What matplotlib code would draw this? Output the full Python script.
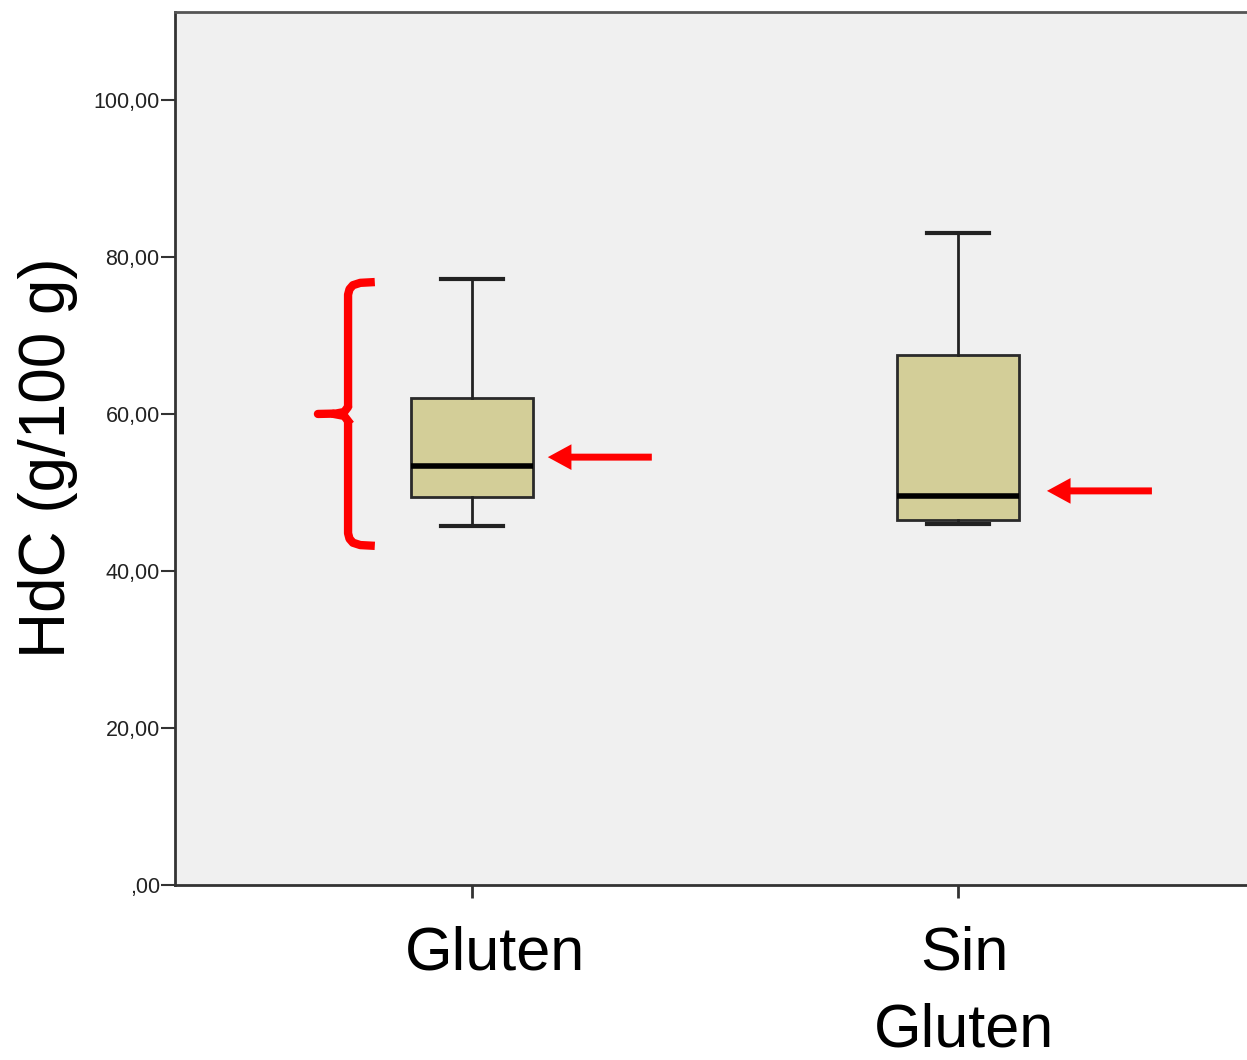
import matplotlib
matplotlib.use("Agg")
import matplotlib.pyplot as plt
from matplotlib.transforms import ScaledTranslation

plt.rcParams['font.family'] = ['Liberation Sans', 'DejaVu Sans']

################################ Data #######################################################

groups = ['Gluten', 'Sin\nGluten']
whisker_low = [45.7, 46.0]
q1 = [49.4, 46.5]
median = [53.4, 49.6]
q3 = [62.0, 67.5]
whisker_high = [77.2, 83.1]

yticks = [0, 20, 40, 60, 80, 100]
ytick_labels = [',00', '20,00', '40,00', '60,00', '80,00', '100,00']

################################ Figure and axes ###################################

fig = plt.figure(figsize=(12.47, 10.6), dpi=100)
ax = fig.add_axes([175 / 1247, 175 / 1060, 1080 / 1247, 873 / 1060])
ax.set_facecolor('#F0F0F0')

stats = []
for i in range(len(groups)):
    stats.append({'whislo': whisker_low[i], 'q1': q1[i], 'med': median[i],
                  'q3': q3[i], 'whishi': whisker_high[i], 'fliers': []})

positions = [1, 2]
ax.bxp(stats, positions=positions, widths=0.253, capwidths=0.126,
       patch_artist=True, showfliers=False,
       boxprops=dict(facecolor='#D3CE98', edgecolor='#2a2a2a', linewidth=2),
       medianprops=dict(color='black', linewidth=4),
       whiskerprops=dict(color='#222222', linewidth=2),
       capprops=dict(color='#222222', linewidth=3))

ax.set_xlim(1 - 297 / 486, 2 + 297 / 486)
ax.set_ylim(0, 111.2)

# spines
ax.spines['right'].set_visible(False)
ax.spines['left'].set_color('#333333')
ax.spines['bottom'].set_color('#333333')
ax.spines['top'].set_color('#555555')
for s in ['left', 'bottom', 'top']:
    ax.spines[s].set_linewidth(2)

ax.set_yticks(yticks)
ax.set_yticklabels(ytick_labels)
ax.tick_params(axis='y', length=10, width=1.5, color='#333333', pad=1, labelsize=15.5, labelcolor='#222222')

ax.set_xticks(positions)
ax.set_xticklabels(groups, linespacing=1.45)
ax.tick_params(axis='x', length=9, width=2, color='#333333', pad=20, labelsize=44)
# labels sit a little right of their ticks in the original
offsets = [23, 6]
for lab, dx in zip(ax.get_xticklabels(), offsets):
    lab.set_transform(lab.get_transform() + ScaledTranslation(dx / 100, 0, fig.dpi_scale_trans))

ax.set_ylabel('HdC (g/100 g)', fontsize=46)
ax.yaxis.set_label_coords(-0.09, 0.49)

################################ Red annotations ###################################

red = '#FF0000'
# curly brace beside the Gluten box
bx, top, bot = 0.745, whisker_high[0] - 0.4, whisker_low[0] - 2.5
mid = (top + bot) / 2
ax.plot([0.80, 0.77, 0.755, 0.748, bx, bx], [top, top - 0.1, top - 0.4, top - 0.9, top - 1.6, mid + 0.8],
        color=red, lw=6, solid_capstyle='butt', solid_joinstyle='round')
ax.plot([0.80, 0.77, 0.755, 0.748, bx, bx], [bot, bot + 0.1, bot + 0.4, bot + 0.9, bot + 1.6, mid - 0.8],
        color=red, lw=6, solid_capstyle='butt', solid_joinstyle='round')
ax.plot([0.683, 0.72, 0.737, bx], [mid, mid + 0.05, mid + 0.25, mid + 0.9], color=red, lw=6,
        solid_capstyle='round', solid_joinstyle='round')
ax.plot([0.72, 0.737, bx], [mid - 0.05, mid - 0.25, mid - 0.9], color=red, lw=6, solid_joinstyle='round')

# arrows pointing at the medians
arrow_tail = [1.370, 2.399]
arrow_head = [1.156, 2.183]
arrow_y = [median[0] + 1.1, median[1] + 0.6]
for xt, xh, yy in zip(arrow_tail, arrow_head, arrow_y):
    ax.annotate('', xy=(xh, yy), xytext=(xt, yy),
                arrowprops=dict(width=5, headwidth=18.5, headlength=17,
                                facecolor=red, edgecolor='none', shrink=0))

fig.savefig('out.png', dpi=100)
